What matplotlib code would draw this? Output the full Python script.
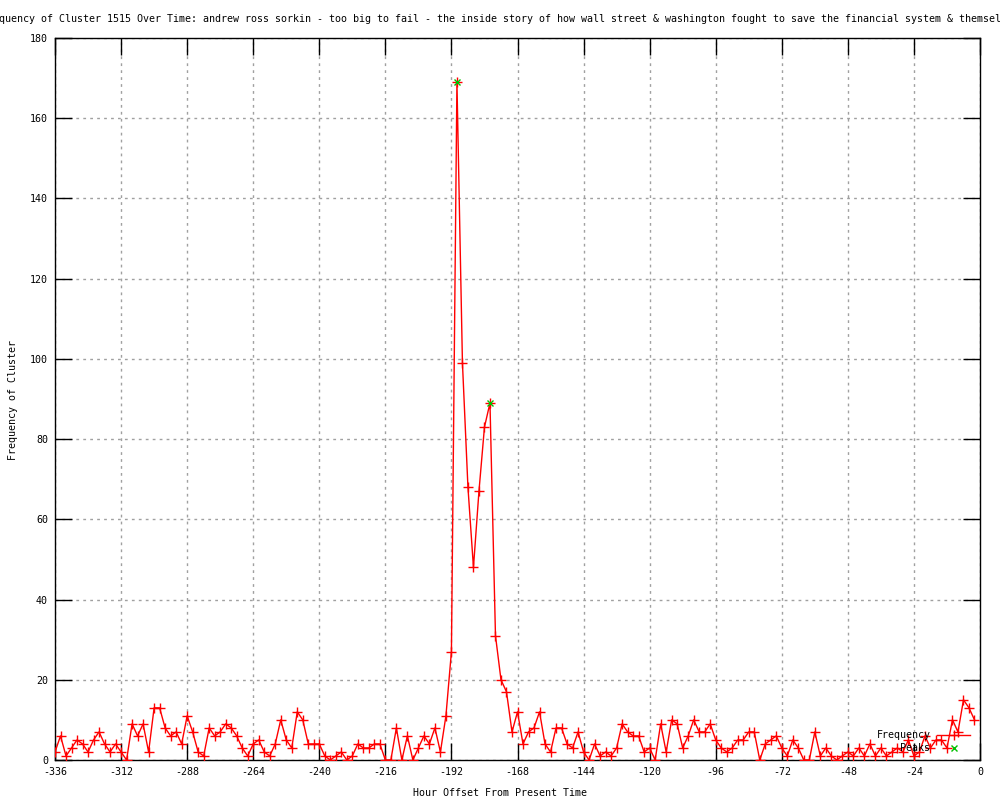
import matplotlib
matplotlib.use("Agg")
import matplotlib.pyplot as plt

plt.rcParams['font.family'] = ['DejaVu Sans Mono']
plt.rcParams['axes.unicode_minus'] = False

title = ("Frequency of Cluster 1515 Over Time: andrew ross sorkin - too big to fail - "
         "the inside story of how wall street & washington fought to save the financial "
         "system & themselves")

# one sample every 2 hours, -336 .. -2
hours = list(range(-336, 0, 2))
freq = [2, 6, 1, 3, 5, 4, 2, 5, 7, 4, 2, 4, 2, 0, 9, 6, 9, 2, 13, 13, 8, 6, 7, 4, 11, 7, 2,
        1, 8, 6, 7, 9, 8, 6, 3, 1, 4, 5, 2, 1, 4, 10, 5, 3, 12, 10, 4, 4, 4, 1, 0, 1, 2, 0,
        1, 4, 3, 3, 4, 4, 0, 0, 8, 0, 6, 0, 3, 6, 4, 8, 2, 11,
        27, 169, 99, 68, 48, 67, 83, 89, 31, 20, 17,
        7, 12, 4, 7, 8, 12, 4, 2, 8, 8, 4, 3, 7, 2,
        0, 4, 1, 2, 1, 3, 9, 7, 6, 6, 2, 3, 0, 9, 2, 10, 9, 3, 6, 10, 7, 7, 9, 5, 3, 2, 3, 5,
        5, 7, 7, 0, 4, 5, 6, 3, 1, 5, 3, 0, 0, 7, 1, 3, 1, 0, 1, 2, 1, 3,
        1, 4, 1, 3, 1, 2, 3, 2, 5, 1, 2, 6, 3, 5, 5, 3, 10, 7, 15, 13, 10]

peak_hours = [-190, -178]
peak_vals = [169, 89]

xticks = list(range(-336, 1, 24))
yticks = list(range(0, 181, 20))

fs = 7.2
fig = plt.figure(figsize=(10, 8), dpi=100)
ax = fig.add_axes([0.055, 0.05, 0.925, 0.9025])

ax.plot(hours, freq, color='red', marker='+', linewidth=1, markersize=6.5,
        markeredgewidth=1, label='Frequency', zorder=3)
ax.plot(peak_hours, peak_vals, linestyle='none', color='#00c000', marker='x',
        markersize=5, markeredgewidth=1, label='Peaks', zorder=4)

ax.set_xlim(-336, 0)
ax.set_ylim(0, 180)
ax.set_xticks(xticks)
ax.set_yticks(yticks)
ax.tick_params(direction='in', length=12, width=1, top=True, right=True,
               labelsize=fs, pad=5, color='black')
ax.grid(True, color='#a0a0a0', linestyle=(0, (2, 3)), linewidth=1)
for s in ax.spines.values():
    s.set_linewidth(1)
    s.set_color('black')

# title is wider than the figure, clipped at both edges as in the original
fig.text(0.5, 0.976, title, ha='center', va='center', fontsize=fs)
fig.text(0.5, 0.009, 'Hour Offset From Present Time', ha='center', va='center', fontsize=fs)
fig.text(0.013, 0.5, 'Frequency of Cluster', ha='center', va='center',
         rotation=90, fontsize=fs)

leg = ax.legend(loc='lower right', bbox_to_anchor=(0.994, 0.004), frameon=False,
                markerfirst=False, fontsize=fs, handlelength=3.3, labelspacing=0.3,
                borderaxespad=0, handletextpad=0.7)

fig.savefig('out.png', dpi=100)
